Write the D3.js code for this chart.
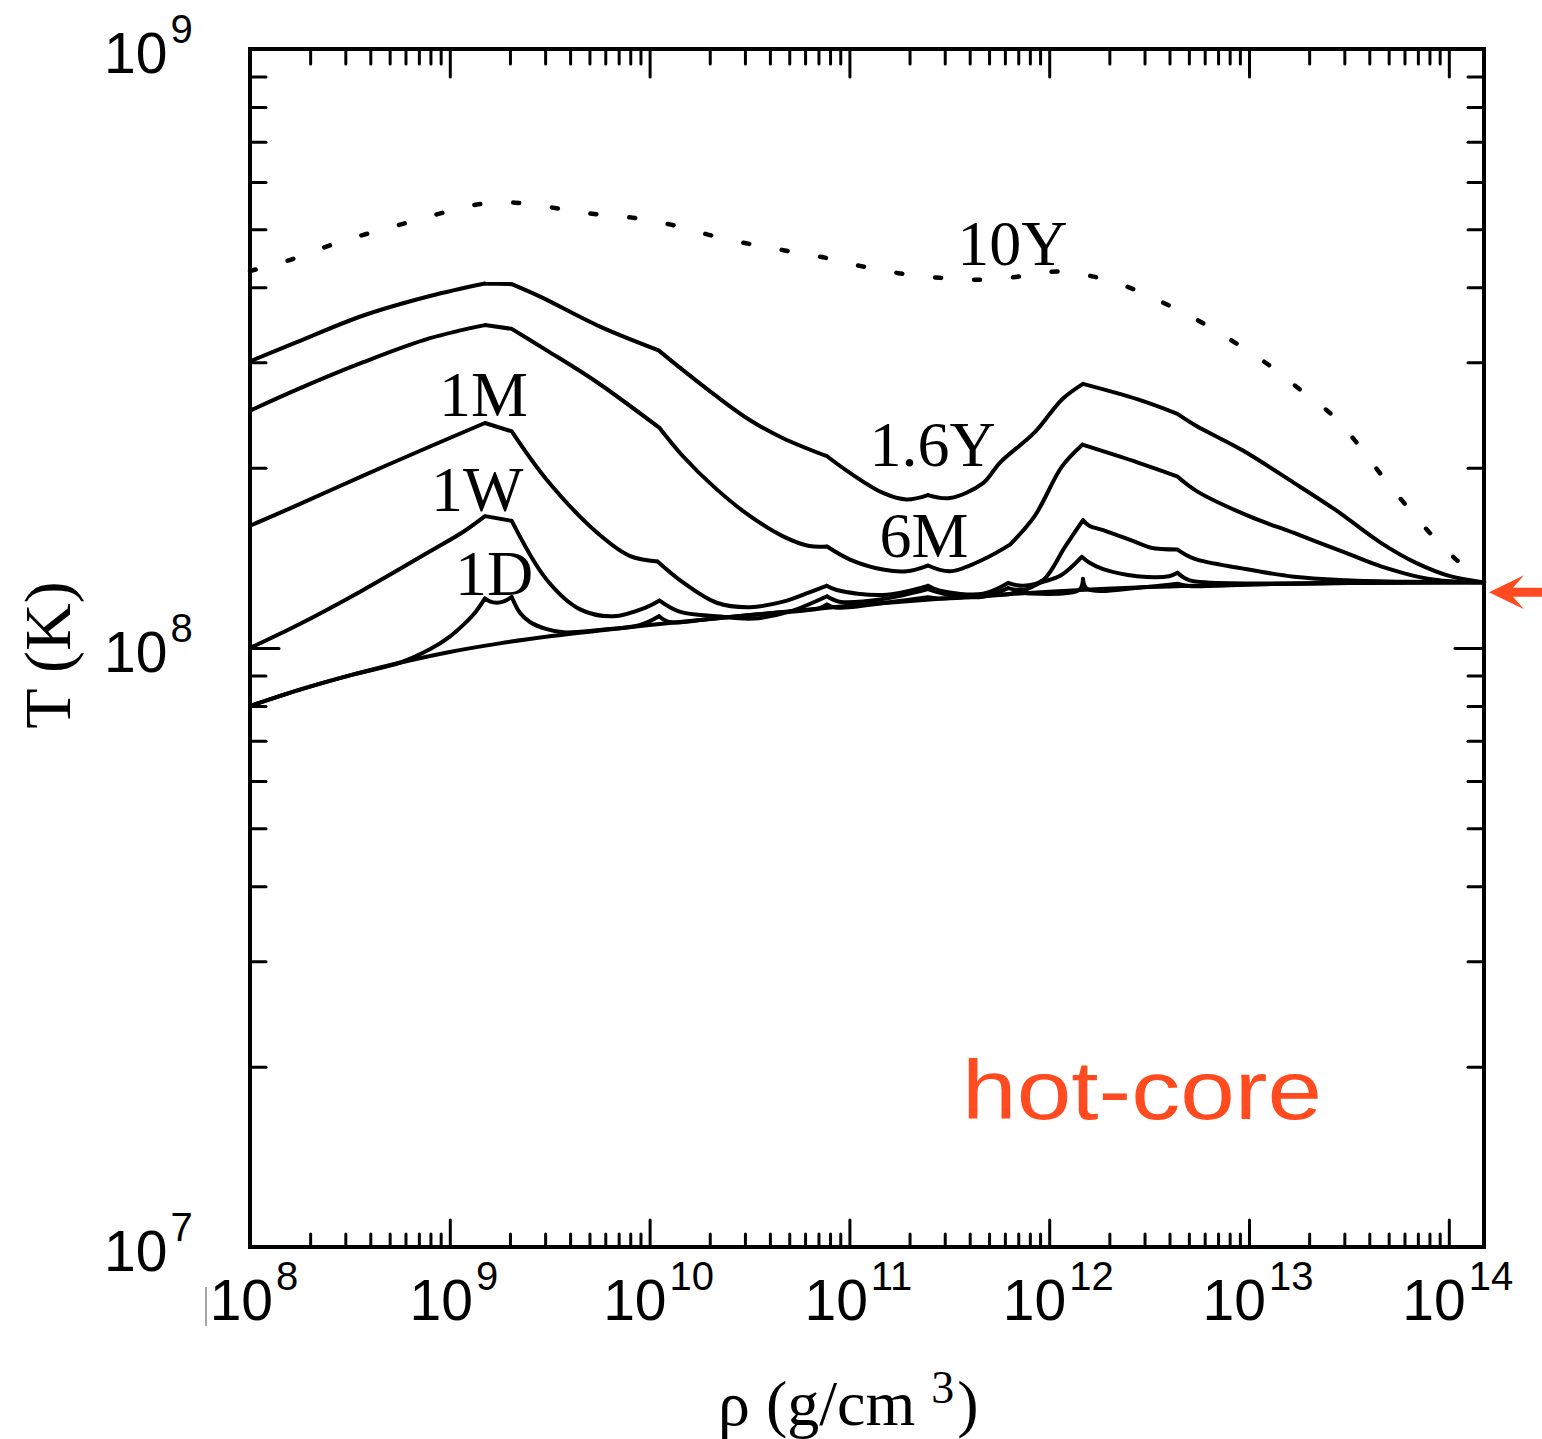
<!DOCTYPE html>
<html>
<head>
<meta charset="utf-8">
<script src="https://cdn.jsdelivr.net/npm/d3@7"></script>
<style>
  html, body { margin: 0; padding: 0; background: #fff; }
  svg { display: block; }
</style>
</head>
<body>
<svg id="chart" width="1542" height="1439"></svg>
<script>
/* Temperature of the crust vs density at several times after the end of
   accretion (hot-core model). Points are [log10 rho (g/cm^3), T (1e8 K)]. */

const equilibrium = [[8.0,0.80],[8.25,0.852],[8.5,0.90],[8.75,0.945],[9.0,0.985],[9.25,1.018],[9.5,1.046],
  [9.75,1.07],[10.0,1.092],[10.5,1.135],[11.0,1.176],[11.5,1.212],[12.0,1.242],[12.5,1.264],[13.0,1.277],
  [13.5,1.284],[14.176,1.287]];

const curve1D = [[8.0,0.80],[8.25,0.852],[8.5,0.90],[8.75,0.945],[8.9,0.995],[9.0,1.045],[9.07,1.095],
  [9.13,1.15],[9.176,1.21],[9.2,1.196],[9.235,1.19],[9.27,1.196],[9.31,1.217],[9.351,1.145],[9.401,1.105],
  [9.485,1.075],[9.57,1.062],[9.75,1.072],[9.95,1.092],[10.047,1.13],[10.1,1.105],[10.3,1.118],[10.6,1.143],
  [10.85,1.165],[10.888,1.182],[10.93,1.168],[11.2,1.192],[11.393,1.215],[11.45,1.21],[11.8,1.23],
  [11.85,1.24],[11.9,1.233],[12.15,1.25],[12.169,1.305],[12.19,1.255],[12.5,1.266],[12.642,1.28],
  [12.7,1.269],[13.0,1.277],[13.5,1.284],[14.176,1.287]];

const curve1W = [[8.0,1.0],[8.234,1.09],[8.567,1.25],[8.901,1.45],[9.07,1.565],[9.176,1.66],[9.31,1.63],
  [9.485,1.30],[9.652,1.16],[9.818,1.13],[9.985,1.17],[10.05,1.20],[10.15,1.15],[10.336,1.13],[10.52,1.12],
  [10.7,1.15],[10.888,1.22],[10.95,1.195],[11.168,1.207],[11.393,1.254],[11.5,1.226],[11.669,1.218],
  [11.794,1.259],[11.87,1.25],[11.954,1.284],[12.059,1.323],[12.163,1.42],[12.2,1.389],[12.27,1.354],
  [12.44,1.318],[12.6,1.318],[12.642,1.335],[12.7,1.298],[13.0,1.282],[13.5,1.285],[14.176,1.287]];

const curve1M = [[8.0,1.60],[8.234,1.73],[8.567,1.94],[8.901,2.17],[9.176,2.375],[9.31,2.30],[9.485,1.91],
  [9.735,1.56],[9.90,1.425],[10.04,1.395],[10.167,1.287],[10.336,1.19],[10.503,1.17],[10.668,1.195],
  [10.803,1.24],[10.886,1.27],[10.936,1.25],[11.168,1.226],[11.393,1.27],[11.453,1.246],[11.669,1.232],
  [11.794,1.284],[11.869,1.27],[11.969,1.298],[12.079,1.475],[12.169,1.635],[12.2,1.60],[12.27,1.573],
  [12.44,1.50],[12.51,1.47],[12.642,1.46],[12.725,1.41],[12.965,1.358],[13.225,1.315],[13.485,1.298],
  [13.8,1.29],[14.176,1.287]];

const curve6M = [[8.0,2.49],[8.234,2.70],[8.567,3.0],[8.901,3.29],[9.176,3.46],[9.31,3.41],[9.485,3.14],
  [9.735,2.78],[10.05,2.33],[10.167,2.09],[10.336,1.84],[10.503,1.66],[10.668,1.536],[10.8,1.48],
  [10.888,1.477],[11.003,1.405],[11.168,1.352],[11.286,1.343],[11.393,1.373],[11.503,1.343],[11.669,1.405],
  [11.804,1.488],[11.927,1.66],[12.064,2.01],[12.166,2.185],[12.444,2.04],[12.64,1.935],[12.74,1.826],
  [13.0,1.66],[13.225,1.556],[13.485,1.441],[13.66,1.369],[13.92,1.301],[14.176,1.287]];

const curve16Y = [[8.0,3.01],[8.234,3.24],[8.567,3.59],[8.901,3.87],[9.176,4.06],[9.31,4.05],[9.452,3.86],
  [9.752,3.44],[10.045,3.14],[10.167,2.91],[10.336,2.63],[10.503,2.40],[10.668,2.24],[10.888,2.09],
  [11.003,1.96],[11.168,1.815],[11.286,1.77],[11.393,1.80],[11.503,1.78],[11.669,1.885],[11.754,2.04],
  [11.927,2.29],[12.064,2.60],[12.169,2.76],[12.444,2.60],[12.642,2.46],[12.735,2.35],[12.965,2.14],
  [13.225,1.887],[13.433,1.70],[13.66,1.498],[13.836,1.387],[14.006,1.318],[14.176,1.287]];

const curve10Y = [[8.0,4.26],[8.187,4.43],[8.375,4.67],[8.563,4.89],[8.751,5.09],[8.939,5.30],[9.136,5.50],
  [9.325,5.54],[9.522,5.43],[9.712,5.31],[9.914,5.23],[10.107,5.09],[10.292,4.90],[10.482,4.74],
  [10.676,4.61],[10.868,4.49],[11.058,4.34],[11.253,4.22],[11.453,4.15],[11.654,4.12],[11.849,4.17],
  [12.039,4.25],[12.234,4.16],[12.424,3.97],[12.6,3.73],[12.78,3.47],[12.945,3.21],[13.11,2.95],
  [13.255,2.70],[13.415,2.45],[13.54,2.20],[13.66,1.95],[13.78,1.74],[13.906,1.555],[14.04,1.402],
  [14.176,1.287]];

// densities (log10) where the profiles have sharp corners
const kinkRho = [9.176, 9.31, 10.045, 10.888, 11.393, 11.794, 12.166, 12.642];

const solidCurves = [equilibrium, curve1D, curve1W, curve1M, curve6M, curve16Y];

// curve labels: [text, log10 rho, T (1e8 K)] at the left end of the text baseline
const curveLabels = [["10Y",11.54,4.36],["1.6Y",11.10,2.01],["6M",11.15,1.42],
  ["1M",8.946,2.44],["1W",8.906,1.69],["1D",9.026,1.224]];

const xLabelExps = [8, 9, 10, 11, 12, 13, 14];
const yLabelExps = [7, 8, 9];

const svg = d3.select("#chart");
const L = 250, R = 1484, T = 49, B = 1247;
const x = d3.scaleLog().domain([1e8, 1.5e14]).range([L, R]);
const y = d3.scaleLog().domain([1e7, 1e9]).range([B, T]);

const px = d => x(Math.pow(10, d[0]));
const py = d => y(d[1] * 1e8);
const smooth = d3.line().x(px).y(py).curve(d3.curveCatmullRom.alpha(0.5));

// smooth between corners, sharp at the corners
function kinked(pts) {
  const parts = [];
  let cur = [pts[0]];
  for (let i = 1; i < pts.length; i++) {
    cur.push(pts[i]);
    const isKink = i < pts.length - 1 && kinkRho.some(k => Math.abs(k - pts[i][0]) < 0.012);
    if (isKink) { parts.push(cur); cur = [pts[i]]; }
  }
  parts.push(cur);
  return parts.map(p => smooth(p)).join("");
}

// tick values
const xMajor = xLabelExps.map(e => Math.pow(10, e));
const xMinor = [];
for (let e = 8; e < 14; e++) for (let k = 2; k <= 9; k++) xMinor.push(k * Math.pow(10, e));
const yMajor = yLabelExps.map(e => Math.pow(10, e));
const yMinor = [];
for (let e = 7; e < 9; e++) for (let k = 2; k <= 9; k++) yMinor.push(k * Math.pow(10, e));

function styleAxis(g) {
  g.select(".domain").remove();
  g.selectAll("line").attr("stroke", "#000").attr("stroke-width", 3).attr("stroke-linecap", "round");
}
const axes = [
  [d3.axisBottom(x).tickValues(xMajor).tickSize(-27), `translate(0,${B})`],
  [d3.axisBottom(x).tickValues(xMinor).tickSize(-13), `translate(0,${B})`],
  [d3.axisTop(x).tickValues(xMajor).tickSize(-28), `translate(0,${T})`],
  [d3.axisTop(x).tickValues(xMinor).tickSize(-15), `translate(0,${T})`],
  [d3.axisLeft(y).tickValues(yMajor).tickSize(-29), `translate(${L},0)`],
  [d3.axisLeft(y).tickValues(yMinor).tickSize(-16), `translate(${L},0)`],
  [d3.axisRight(y).tickValues(yMajor).tickSize(-29), `translate(${R},0)`],
  [d3.axisRight(y).tickValues(yMinor).tickSize(-16), `translate(${R},0)`]
];
axes.forEach(([ax, tr]) => {
  svg.append("g").attr("transform", tr).call(ax.tickFormat("")).call(styleAxis);
});

// curves
svg.append("g").selectAll("path").data(solidCurves).join("path")
  .attr("d", kinked)
  .attr("fill", "none").attr("stroke", "#000").attr("stroke-width", 4)
  .attr("stroke-linejoin", "round").attr("stroke-linecap", "round");

svg.append("path").datum(curve10Y)
  .attr("d", smooth)
  .attr("fill", "none").attr("stroke", "#000").attr("stroke-width", 4.5)
  .attr("stroke-linecap", "round").attr("stroke-dasharray", "6 33");

// frame
svg.append("rect").attr("x", L).attr("y", T).attr("width", R - L).attr("height", B - T)
  .attr("fill", "none").attr("stroke", "#000").attr("stroke-width", 4);

// tick labels
const sans = "'Liberation Sans', Arial, Helvetica, sans-serif";
const serif = "'Liberation Serif', 'Times New Roman', Times, serif";

const xl = svg.append("g").attr("font-family", sans).attr("fill", "#000");
xLabelExps.forEach(e => {
  const t = xl.append("text")
    .attr("x", x(Math.pow(10, e)) + (e >= 10 ? 9 : 4)).attr("y", 1320)
    .attr("text-anchor", "middle").attr("font-size", 57);
  t.append("tspan").text("10");
  t.append("tspan").attr("dx", 3).attr("dy", -30).attr("font-size", 40).text(e);
});
// faint stray stroke left of the first x label, as in the original
svg.append("line").attr("x1", x(1e8) - 44).attr("x2", x(1e8) - 44)
  .attr("y1", 1287).attr("y2", 1326).attr("stroke", "#777").attr("stroke-width", 1.3);

const yl = svg.append("g").attr("font-family", sans).attr("fill", "#000");
yLabelExps.forEach(e => {
  const t = yl.append("text")
    .attr("x", 104).attr("y", y(Math.pow(10, e)) + 24)
    .attr("font-size", 57);
  t.append("tspan").text("10");
  t.append("tspan").attr("dx", 3).attr("dy", -30).attr("font-size", 40).text(e);
});

// axis titles
svg.append("text")
  .attr("transform", "translate(70,655) rotate(-90)")
  .attr("text-anchor", "middle").attr("font-family", serif).attr("font-size", 66)
  .text("T (K)");

const xt = svg.append("text").attr("x", 718).attr("y", 1425)
  .attr("font-family", serif).attr("font-size", 64);
xt.append("tspan").text("ρ (g/cm");
xt.append("tspan").attr("dx", 16).attr("dy", -22).attr("font-size", 46).text("3");
xt.append("tspan").attr("dx", 3).attr("dy", 22).text(")");

// curve labels
svg.append("g").selectAll("text").data(curveLabels).join("text")
  .attr("x", d => x(Math.pow(10, d[1])))
  .attr("y", d => y(d[2] * 1e8))
  .attr("font-family", serif).attr("font-size", 64).attr("fill", "#000")
  .text(d => d[0]);

// model name
const accent = "#FF4B1F";
svg.append("text")
  .attr("x", x(Math.pow(10, 11.564))).attr("y", y(0.1635e8))
  .attr("font-family", sans).attr("font-size", 84).attr("fill", accent)
  .attr("textLength", 360).attr("lengthAdjust", "spacingAndGlyphs")
  .text("hot-core");

// arrow marking the core temperature on the right axis
const ay = y(equilibrium[equilibrium.length - 1][1] * 1e8) + 10;
const tip = R + 5;
svg.append("path")
  .attr("d", `M${tip},${ay} L${tip + 35},${ay - 17} L${tip + 24},${ay - 4.5} L1542,${ay - 4.5} L1542,${ay + 4.5} L${tip + 24},${ay + 4.5} L${tip + 35},${ay + 17} Z`)
  .attr("fill", accent);
</script>
</body>
</html>
